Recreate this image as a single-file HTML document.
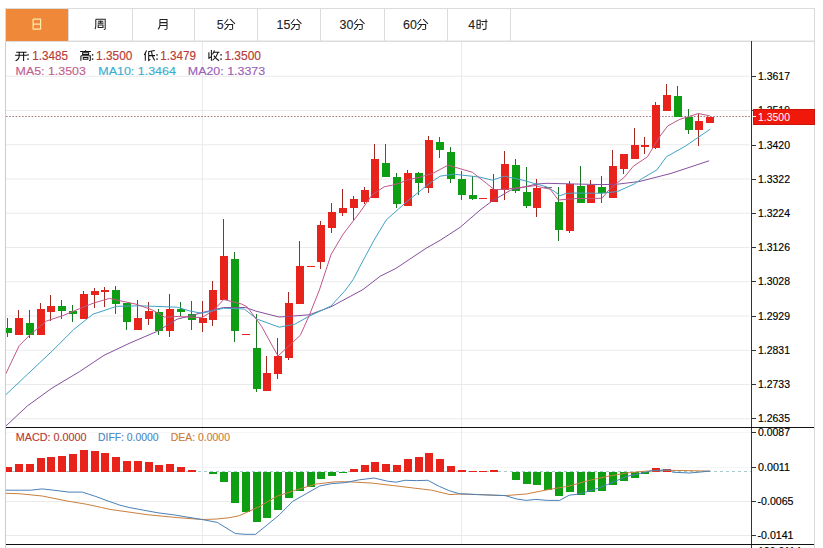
<!DOCTYPE html>
<html><head><meta charset="utf-8"><style>
html,body{margin:0;padding:0;background:#fff;width:823px;height:548px;overflow:hidden}
svg{display:block;font-family:'Liberation Sans',sans-serif}
</style></head><body>
<svg width="823" height="548" viewBox="0 0 823 548">
<defs><clipPath id="clipmain"><rect x="6" y="42" width="745" height="385"/></clipPath><clipPath id="clipmacd"><rect x="6" y="428" width="745" height="116"/></clipPath></defs>
<rect width="823" height="548" fill="#fff"/>
<g><line x1="6" y1="76.25" x2="750" y2="76.25" stroke="#eaeaea"/><line x1="6" y1="110.5" x2="750" y2="110.5" stroke="#eaeaea"/><line x1="6" y1="144.75" x2="750" y2="144.75" stroke="#eaeaea"/><line x1="6" y1="179.0" x2="750" y2="179.0" stroke="#eaeaea"/><line x1="6" y1="213.25" x2="750" y2="213.25" stroke="#eaeaea"/><line x1="6" y1="247.5" x2="750" y2="247.5" stroke="#eaeaea"/><line x1="6" y1="281.75" x2="750" y2="281.75" stroke="#eaeaea"/><line x1="6" y1="316.0" x2="750" y2="316.0" stroke="#eaeaea"/><line x1="6" y1="350.25" x2="750" y2="350.25" stroke="#eaeaea"/><line x1="6" y1="384.5" x2="750" y2="384.5" stroke="#eaeaea"/><line x1="6" y1="418.75" x2="750" y2="418.75" stroke="#eaeaea"/></g>
<g shape-rendering="crispEdges"><line x1="6" y1="432.5" x2="751" y2="432.5" stroke="#f6f6f6"/><line x1="6" y1="467.5" x2="751" y2="467.5" stroke="#f6f6f6"/><line x1="6" y1="501.5" x2="751" y2="501.5" stroke="#eaeaea"/><line x1="6" y1="535.5" x2="751" y2="535.5" stroke="#eaeaea"/><line x1="202.5" y1="41" x2="202.5" y2="544" stroke="#eaeaea"/><line x1="461.5" y1="41" x2="461.5" y2="544" stroke="#eaeaea"/></g>
<rect x="5.5" y="8.5" width="809" height="32.5" fill="#fff" stroke="#dcdcdc"/>
<rect x="6" y="9" width="62.5" height="32" fill="#f0883a"/>
<g shape-rendering="crispEdges"><line x1="68.5" y1="9" x2="68.5" y2="41" stroke="#dcdcdc"/><line x1="132.5" y1="9" x2="132.5" y2="41" stroke="#dcdcdc"/><line x1="194.5" y1="9" x2="194.5" y2="41" stroke="#dcdcdc"/><line x1="257.5" y1="9" x2="257.5" y2="41" stroke="#dcdcdc"/><line x1="320.5" y1="9" x2="320.5" y2="41" stroke="#dcdcdc"/><line x1="384.5" y1="9" x2="384.5" y2="41" stroke="#dcdcdc"/><line x1="447.5" y1="9" x2="447.5" y2="41" stroke="#dcdcdc"/><line x1="510.5" y1="9" x2="510.5" y2="41" stroke="#dcdcdc"/></g>
<g shape-rendering="crispEdges">
<line x1="5.5" y1="41" x2="5.5" y2="548" stroke="#cdcdcd"/>
<line x1="814.5" y1="8" x2="814.5" y2="548" stroke="#d8d8d8"/>
<line x1="5" y1="41.5" x2="815" y2="41.5" stroke="#dcdcdc"/>
<line x1="751.5" y1="41" x2="751.5" y2="548" stroke="#333"/>
<line x1="6" y1="427.5" x2="814" y2="427.5" stroke="#111"/>
<line x1="6" y1="544.5" x2="814" y2="544.5" stroke="#111"/>
</g>
<line x1="6" y1="471.5" x2="751" y2="471.5" stroke="#a8cccc" stroke-dasharray="3,3" shape-rendering="crispEdges"/>
<line x1="6" y1="116.5" x2="751" y2="116.5" stroke="#a87878" stroke-dasharray="1.6,1.6"/>
<g shape-rendering="crispEdges" clip-path="url(#clipmain)"><line x1="7.5" y1="318" x2="7.5" y2="337" stroke="#1c7424"/><rect x="4" y="328" width="8" height="5" fill="#0e9e14"/><line x1="18.5" y1="310" x2="18.5" y2="335" stroke="#a02a22"/><rect x="15" y="318" width="8" height="17" fill="#e8231b"/><line x1="29.5" y1="310" x2="29.5" y2="338" stroke="#1c7424"/><rect x="26" y="323" width="8" height="12" fill="#0e9e14"/><line x1="40.5" y1="303" x2="40.5" y2="335" stroke="#a02a22"/><rect x="37" y="309" width="8" height="26" fill="#e8231b"/><line x1="50.5" y1="295" x2="50.5" y2="321" stroke="#a02a22"/><rect x="47" y="306" width="8" height="6" fill="#e8231b"/><line x1="61.5" y1="300" x2="61.5" y2="319" stroke="#1c7424"/><rect x="58" y="306" width="8" height="5" fill="#0e9e14"/><line x1="72.5" y1="305" x2="72.5" y2="322" stroke="#1c7424"/><rect x="69" y="311" width="8" height="3" fill="#0e9e14"/><line x1="83.5" y1="291" x2="83.5" y2="319" stroke="#a02a22"/><rect x="80" y="294" width="8" height="25" fill="#e8231b"/><line x1="94.5" y1="288" x2="94.5" y2="308" stroke="#a02a22"/><rect x="91" y="291" width="8" height="4" fill="#e8231b"/><line x1="104.5" y1="287" x2="104.5" y2="307" stroke="#a02a22"/><rect x="101" y="290" width="8" height="2" fill="#e8231b"/><line x1="115.5" y1="286" x2="115.5" y2="314" stroke="#1c7424"/><rect x="112" y="290" width="8" height="14" fill="#0e9e14"/><line x1="126.5" y1="303" x2="126.5" y2="330" stroke="#1c7424"/><rect x="123" y="303" width="8" height="19" fill="#0e9e14"/><line x1="137.5" y1="300" x2="137.5" y2="330" stroke="#a02a22"/><rect x="134" y="318" width="8" height="12" fill="#e8231b"/><line x1="148.5" y1="302" x2="148.5" y2="325" stroke="#a02a22"/><rect x="145" y="311" width="8" height="8" fill="#e8231b"/><line x1="158.5" y1="309" x2="158.5" y2="335" stroke="#1c7424"/><rect x="155" y="312" width="8" height="19" fill="#0e9e14"/><line x1="169.5" y1="294" x2="169.5" y2="337" stroke="#a02a22"/><rect x="166" y="309" width="8" height="22" fill="#e8231b"/><line x1="180.5" y1="302" x2="180.5" y2="316" stroke="#1c7424"/><rect x="177" y="309" width="8" height="3" fill="#0e9e14"/><line x1="191.5" y1="301" x2="191.5" y2="330" stroke="#1c7424"/><rect x="188" y="314" width="8" height="6" fill="#0e9e14"/><line x1="202.5" y1="301" x2="202.5" y2="332" stroke="#a02a22"/><rect x="199" y="318" width="8" height="5" fill="#e8231b"/><line x1="212.5" y1="281" x2="212.5" y2="326" stroke="#a02a22"/><rect x="209" y="290" width="8" height="30" fill="#e8231b"/><line x1="223.5" y1="219" x2="223.5" y2="300" stroke="#a02a22"/><rect x="220" y="256" width="8" height="44" fill="#e8231b"/><line x1="234.5" y1="252" x2="234.5" y2="342" stroke="#1c7424"/><rect x="231" y="259" width="8" height="72" fill="#0e9e14"/><rect x="242" y="334" width="8" height="1" fill="#e8231b"/><line x1="256.5" y1="314" x2="256.5" y2="392" stroke="#1c7424"/><rect x="253" y="348" width="8" height="41" fill="#0e9e14"/><line x1="266.5" y1="356" x2="266.5" y2="391" stroke="#a02a22"/><rect x="263" y="373" width="8" height="18" fill="#e8231b"/><line x1="277.5" y1="338" x2="277.5" y2="379" stroke="#a02a22"/><rect x="274" y="356" width="8" height="18" fill="#e8231b"/><line x1="288.5" y1="292" x2="288.5" y2="360" stroke="#a02a22"/><rect x="285" y="303" width="8" height="55" fill="#e8231b"/><line x1="299.5" y1="241" x2="299.5" y2="304" stroke="#a02a22"/><rect x="296" y="266" width="8" height="38" fill="#e8231b"/><rect x="307" y="266" width="8" height="1" fill="#e8231b"/><line x1="320.5" y1="221" x2="320.5" y2="269" stroke="#a02a22"/><rect x="317" y="225" width="8" height="37" fill="#e8231b"/><line x1="331.5" y1="203" x2="331.5" y2="233" stroke="#a02a22"/><rect x="328" y="212" width="8" height="16" fill="#e8231b"/><line x1="342.5" y1="189" x2="342.5" y2="216" stroke="#a02a22"/><rect x="339" y="208" width="8" height="5" fill="#e8231b"/><line x1="353.5" y1="196" x2="353.5" y2="220" stroke="#a02a22"/><rect x="350" y="199" width="8" height="9" fill="#e8231b"/><line x1="364.5" y1="187" x2="364.5" y2="204" stroke="#a02a22"/><rect x="361" y="190" width="8" height="12" fill="#e8231b"/><line x1="374.5" y1="144" x2="374.5" y2="198" stroke="#a02a22"/><rect x="371" y="159" width="8" height="39" fill="#e8231b"/><line x1="385.5" y1="144" x2="385.5" y2="177" stroke="#1c7424"/><rect x="382" y="163" width="8" height="14" fill="#0e9e14"/><line x1="396.5" y1="173" x2="396.5" y2="208" stroke="#1c7424"/><rect x="393" y="177" width="8" height="27" fill="#0e9e14"/><line x1="407.5" y1="170" x2="407.5" y2="206" stroke="#a02a22"/><rect x="404" y="173" width="8" height="33" fill="#e8231b"/><line x1="418.5" y1="172" x2="418.5" y2="195" stroke="#1c7424"/><rect x="415" y="173" width="8" height="10" fill="#0e9e14"/><line x1="428.5" y1="136" x2="428.5" y2="193" stroke="#a02a22"/><rect x="425" y="140" width="8" height="48" fill="#e8231b"/><line x1="439.5" y1="137" x2="439.5" y2="158" stroke="#1c7424"/><rect x="436" y="142" width="8" height="8" fill="#0e9e14"/><line x1="450.5" y1="147" x2="450.5" y2="183" stroke="#1c7424"/><rect x="447" y="152" width="8" height="27" fill="#0e9e14"/><line x1="461.5" y1="171" x2="461.5" y2="200" stroke="#1c7424"/><rect x="458" y="179" width="8" height="16" fill="#0e9e14"/><line x1="472.5" y1="176" x2="472.5" y2="200" stroke="#1c7424"/><rect x="469" y="195" width="8" height="4" fill="#0e9e14"/><rect x="479" y="198" width="8" height="1" fill="#e8231b"/><line x1="493.5" y1="174" x2="493.5" y2="202" stroke="#a02a22"/><rect x="490" y="189" width="8" height="13" fill="#e8231b"/><line x1="504.5" y1="151" x2="504.5" y2="200" stroke="#a02a22"/><rect x="501" y="164" width="8" height="26" fill="#e8231b"/><line x1="515.5" y1="159" x2="515.5" y2="193" stroke="#1c7424"/><rect x="512" y="165" width="8" height="26" fill="#0e9e14"/><line x1="526.5" y1="167" x2="526.5" y2="208" stroke="#1c7424"/><rect x="523" y="192" width="8" height="14" fill="#0e9e14"/><line x1="536.5" y1="179" x2="536.5" y2="217" stroke="#a02a22"/><rect x="533" y="188" width="8" height="20" fill="#e8231b"/><rect x="544" y="187" width="8" height="1" fill="#707070"/><line x1="558.5" y1="187" x2="558.5" y2="241" stroke="#1c7424"/><rect x="555" y="202" width="8" height="28" fill="#0e9e14"/><line x1="569.5" y1="181" x2="569.5" y2="233" stroke="#a02a22"/><rect x="566" y="184" width="8" height="47" fill="#e8231b"/><line x1="580.5" y1="166" x2="580.5" y2="203" stroke="#1c7424"/><rect x="577" y="186" width="8" height="17" fill="#0e9e14"/><line x1="590.5" y1="180" x2="590.5" y2="203" stroke="#a02a22"/><rect x="587" y="185" width="8" height="18" fill="#e8231b"/><line x1="601.5" y1="176" x2="601.5" y2="203" stroke="#1c7424"/><rect x="598" y="187" width="8" height="6" fill="#0e9e14"/><line x1="612.5" y1="150" x2="612.5" y2="198" stroke="#a02a22"/><rect x="609" y="166" width="8" height="32" fill="#e8231b"/><line x1="623.5" y1="154" x2="623.5" y2="174" stroke="#a02a22"/><rect x="620" y="154" width="8" height="15" fill="#e8231b"/><line x1="634.5" y1="128" x2="634.5" y2="158" stroke="#a02a22"/><rect x="631" y="145" width="8" height="14" fill="#e8231b"/><line x1="644.5" y1="137" x2="644.5" y2="154" stroke="#a02a22"/><rect x="641" y="145" width="8" height="2" fill="#e8231b"/><line x1="655.5" y1="102" x2="655.5" y2="149" stroke="#a02a22"/><rect x="652" y="105" width="8" height="43" fill="#e8231b"/><line x1="666.5" y1="84" x2="666.5" y2="111" stroke="#a02a22"/><rect x="663" y="95" width="8" height="16" fill="#e8231b"/><line x1="677.5" y1="86" x2="677.5" y2="116" stroke="#1c7424"/><rect x="674" y="96" width="8" height="21" fill="#0e9e14"/><line x1="688.5" y1="109" x2="688.5" y2="134" stroke="#1c7424"/><rect x="685" y="117" width="8" height="13" fill="#0e9e14"/><line x1="698.5" y1="114" x2="698.5" y2="146" stroke="#a02a22"/><rect x="695" y="121" width="8" height="9" fill="#e8231b"/><line x1="709.5" y1="117" x2="709.5" y2="123" stroke="#a02a22"/><rect x="706" y="117" width="8" height="6" fill="#e8231b"/></g>
<g clip-path="url(#clipmain)">
<polyline points="5.5,426.4 27.4,405.9 52.0,388.1 79.4,371.7 104.0,355.3 130.0,343.0 156.6,331.6 177.1,319.2 190.8,315.8 201.9,312.6 223.7,307.5 245.6,307.5 255.8,311.1 279.2,317.0 300.0,315.5 309.2,314.8 331.0,306.8 363.0,289.5 380.1,276.3 396.1,268.3 426.2,248.2 440.3,240.2 460.3,227.2 480.0,210.1 492.3,200.9 510.4,190.3 523.0,187.2 536.7,184.0 546.9,183.3 575.0,184.0 602.0,184.6 617.4,184.2 640.0,181.4 671.1,173.4 709.1,160.8" fill="none" stroke="#86509c" stroke-width="1" stroke-linejoin="round"/>
<polyline points="5.5,395.0 27.4,374.4 52.0,351.2 73.9,329.3 93.0,314.2 109.5,308.7 116.9,306.3 140.1,305.8 177.1,307.2 190.0,311.0 201.9,313.3 223.7,308.2 244.2,309.0 257.3,319.2 279.2,327.2 294.6,324.3 309.2,316.2 331.0,306.0 345.6,290.0 353.3,279.3 360.0,266.3 374.0,240.2 386.1,220.1 406.2,202.1 426.2,186.0 434.3,180.0 440.1,176.2 454.1,174.2 480.2,177.2 492.3,180.2 504.3,176.2 523.0,180.2 533.8,183.3 546.9,186.9 554.2,191.3 560.1,195.7 566.0,193.5 575.0,193.0 602.0,193.3 617.4,191.5 633.9,184.2 642.7,178.2 656.9,169.9 666.4,156.8 685.4,146.1 710.3,129.1" fill="none" stroke="#40a2c4" stroke-width="1" stroke-linejoin="round"/>
<polyline points="5.5,374.4 19.2,345.7 30.1,334.7 46.5,321.0 62.9,315.6 79.4,308.7 93.0,303.3 109.4,298.4 136.0,304.2 152.5,310.0 164.8,317.2 177.0,316.5 201.9,317.7 213.5,310.4 223.7,299.5 241.2,303.9 247.1,306.8 261.7,326.5 271.9,345.0 278.0,356.0 300.4,335.2 309.2,315.5 319.4,290.0 331.2,254.2 343.2,234.1 360.0,212.1 372.0,195.0 384.2,186.8 392.2,185.2 400.1,183.0 406.3,180.2 420.0,177.2 433.0,173.2 448.1,165.2 472.2,172.2 486.3,183.2 494.3,189.7 504.3,189.3 523.0,187.2 536.1,185.5 539.6,186.9 550.2,189.2 558.4,200.0 575.0,198.6 602.0,198.3 609.2,189.6 617.4,182.8 624.7,176.9 633.2,166.3 647.4,156.8 660.0,136.2 667.7,126.0 679.2,119.6 689.4,116.4 698.3,113.5 709.8,115.8" fill="none" stroke="#c0568a" stroke-width="1" stroke-linejoin="round"/>
</g>
<g shape-rendering="crispEdges" clip-path="url(#clipmacd)"><rect x="4" y="467" width="8" height="5" fill="#e8231b"/><rect x="15" y="464" width="8" height="8" fill="#e8231b"/><rect x="26" y="464" width="8" height="8" fill="#e8231b"/><rect x="37" y="458" width="8" height="14" fill="#e8231b"/><rect x="47" y="457" width="8" height="15" fill="#e8231b"/><rect x="58" y="456" width="8" height="16" fill="#e8231b"/><rect x="69" y="454" width="8" height="18" fill="#e8231b"/><rect x="80" y="450" width="8" height="22" fill="#e8231b"/><rect x="91" y="451" width="8" height="21" fill="#e8231b"/><rect x="101" y="453" width="8" height="19" fill="#e8231b"/><rect x="112" y="457" width="8" height="15" fill="#e8231b"/><rect x="123" y="461" width="8" height="11" fill="#e8231b"/><rect x="134" y="461" width="8" height="11" fill="#e8231b"/><rect x="145" y="462" width="8" height="10" fill="#e8231b"/><rect x="155" y="465" width="8" height="7" fill="#e8231b"/><rect x="166" y="464" width="8" height="8" fill="#e8231b"/><rect x="177" y="467" width="8" height="5" fill="#e8231b"/><rect x="188" y="470" width="8" height="2" fill="#e8231b"/><rect x="209" y="472" width="8" height="2" fill="#0e9e14"/><rect x="220" y="472" width="8" height="10" fill="#0e9e14"/><rect x="231" y="472" width="8" height="31" fill="#0e9e14"/><rect x="242" y="472" width="8" height="40" fill="#0e9e14"/><rect x="253" y="472" width="8" height="50" fill="#0e9e14"/><rect x="263" y="472" width="8" height="46" fill="#0e9e14"/><rect x="274" y="472" width="8" height="38" fill="#0e9e14"/><rect x="285" y="472" width="8" height="26" fill="#0e9e14"/><rect x="296" y="472" width="8" height="19" fill="#0e9e14"/><rect x="307" y="472" width="8" height="15" fill="#0e9e14"/><rect x="317" y="472" width="8" height="7" fill="#0e9e14"/><rect x="328" y="472" width="8" height="4" fill="#0e9e14"/><rect x="339" y="472" width="8" height="1" fill="#0e9e14"/><rect x="350" y="469" width="8" height="3" fill="#e8231b"/><rect x="361" y="465" width="8" height="7" fill="#e8231b"/><rect x="371" y="462" width="8" height="10" fill="#e8231b"/><rect x="382" y="464" width="8" height="8" fill="#e8231b"/><rect x="393" y="465" width="8" height="7" fill="#e8231b"/><rect x="404" y="459" width="8" height="13" fill="#e8231b"/><rect x="415" y="457" width="8" height="15" fill="#e8231b"/><rect x="425" y="453" width="8" height="19" fill="#e8231b"/><rect x="436" y="459" width="8" height="13" fill="#e8231b"/><rect x="447" y="466" width="8" height="6" fill="#e8231b"/><rect x="458" y="470" width="8" height="2" fill="#e8231b"/><rect x="469" y="471" width="8" height="1" fill="#e8231b"/><rect x="479" y="471" width="8" height="1" fill="#e8231b"/><rect x="490" y="470" width="8" height="2" fill="#e8231b"/><rect x="512" y="472" width="8" height="8" fill="#0e9e14"/><rect x="523" y="472" width="8" height="12" fill="#0e9e14"/><rect x="533" y="472" width="8" height="13" fill="#0e9e14"/><rect x="544" y="472" width="8" height="18" fill="#0e9e14"/><rect x="555" y="472" width="8" height="24" fill="#0e9e14"/><rect x="566" y="472" width="8" height="20" fill="#0e9e14"/><rect x="577" y="472" width="8" height="23" fill="#0e9e14"/><rect x="587" y="472" width="8" height="20" fill="#0e9e14"/><rect x="598" y="472" width="8" height="19" fill="#0e9e14"/><rect x="609" y="472" width="8" height="13" fill="#0e9e14"/><rect x="620" y="472" width="8" height="9" fill="#0e9e14"/><rect x="631" y="472" width="8" height="6" fill="#0e9e14"/><rect x="641" y="472" width="8" height="2" fill="#0e9e14"/><rect x="652" y="468" width="8" height="4" fill="#e8231b"/><rect x="663" y="469" width="8" height="3" fill="#e8231b"/></g>
<polyline points="5.8,493.3 19.2,493.7 42.2,496.0 67.1,501.0 86.3,504.2 101.6,507.5 110.0,509.4 148.3,514.8 177.1,517.6 202.0,519.5 217.3,519.0 230.0,517.6 239.2,515.7 258.3,507.1 277.5,496.0 296.7,489.8 315.8,484.1 335.0,481.8 349.2,481.8 372.2,483.1 393.3,485.6 412.4,487.9 431.6,490.2 450.0,494.6 459.2,494.0 478.3,494.6 505.2,495.6 526.3,494.0 545.4,490.2 569.2,486.0 588.3,480.6 607.5,476.4 626.7,473.0 645.8,471.1 670.0,470.3 710.0,471.1" fill="none" stroke="#c97f3c" stroke-width="1" stroke-linejoin="round"/>
<polyline points="5.8,490.2 19.2,490.2 30.7,490.2 42.2,488.9 53.7,490.2 69.0,492.1 82.4,492.1 95.8,496.5 108.0,501.0 120.0,505.2 129.2,507.5 157.9,512.8 173.3,514.8 202.0,519.5 217.3,522.4 225.0,527.2 235.3,533.5 244.9,534.3 255.5,534.3 267.9,524.3 279.4,514.8 292.8,501.3 306.3,493.7 319.7,486.0 331.2,483.7 345.3,482.6 358.8,479.9 374.1,478.0 387.5,481.2 396.1,482.2 404.8,480.3 416.3,480.6 427.8,480.3 439.3,486.4 449.6,490.8 459.2,493.7 478.3,494.6 505.2,495.6 516.7,499.0 526.3,500.4 535.8,499.4 547.3,500.4 559.6,500.4 569.2,495.2 578.8,494.1 597.9,488.3 607.5,484.5 626.7,476.4 640.1,473.5 651.6,470.7 670.0,469.7 672.6,472.2 689.8,473.0 710.0,471.1" fill="none" stroke="#4a80b8" stroke-width="1" stroke-linejoin="round"/>
<g style="font-family:'Liberation Sans',sans-serif"><line x1="752" y1="76.5" x2="756" y2="76.5" stroke="#333" shape-rendering="crispEdges"/><text x="758" y="80.1" fill="#000" stroke="#000" stroke-width="0.15" font-size="10.6" text-anchor="start" textLength="32" lengthAdjust="spacingAndGlyphs">1.3617</text><line x1="752" y1="110.5" x2="756" y2="110.5" stroke="#333" shape-rendering="crispEdges"/><text x="758" y="114.1" fill="#000" stroke="#000" stroke-width="0.15" font-size="10.6" text-anchor="start" textLength="32" lengthAdjust="spacingAndGlyphs">1.3519</text><line x1="752" y1="145.5" x2="756" y2="145.5" stroke="#333" shape-rendering="crispEdges"/><text x="758" y="149.1" fill="#000" stroke="#000" stroke-width="0.15" font-size="10.6" text-anchor="start" textLength="32" lengthAdjust="spacingAndGlyphs">1.3420</text><line x1="752" y1="179.5" x2="756" y2="179.5" stroke="#333" shape-rendering="crispEdges"/><text x="758" y="183.1" fill="#000" stroke="#000" stroke-width="0.15" font-size="10.6" text-anchor="start" textLength="32" lengthAdjust="spacingAndGlyphs">1.3322</text><line x1="752" y1="213.5" x2="756" y2="213.5" stroke="#333" shape-rendering="crispEdges"/><text x="758" y="217.1" fill="#000" stroke="#000" stroke-width="0.15" font-size="10.6" text-anchor="start" textLength="32" lengthAdjust="spacingAndGlyphs">1.3224</text><line x1="752" y1="247.5" x2="756" y2="247.5" stroke="#333" shape-rendering="crispEdges"/><text x="758" y="251.1" fill="#000" stroke="#000" stroke-width="0.15" font-size="10.6" text-anchor="start" textLength="32" lengthAdjust="spacingAndGlyphs">1.3126</text><line x1="752" y1="281.5" x2="756" y2="281.5" stroke="#333" shape-rendering="crispEdges"/><text x="758" y="285.1" fill="#000" stroke="#000" stroke-width="0.15" font-size="10.6" text-anchor="start" textLength="32" lengthAdjust="spacingAndGlyphs">1.3028</text><line x1="752" y1="316.5" x2="756" y2="316.5" stroke="#333" shape-rendering="crispEdges"/><text x="758" y="320.1" fill="#000" stroke="#000" stroke-width="0.15" font-size="10.6" text-anchor="start" textLength="32" lengthAdjust="spacingAndGlyphs">1.2929</text><line x1="752" y1="350.5" x2="756" y2="350.5" stroke="#333" shape-rendering="crispEdges"/><text x="758" y="354.1" fill="#000" stroke="#000" stroke-width="0.15" font-size="10.6" text-anchor="start" textLength="32" lengthAdjust="spacingAndGlyphs">1.2831</text><line x1="752" y1="384.5" x2="756" y2="384.5" stroke="#333" shape-rendering="crispEdges"/><text x="758" y="388.1" fill="#000" stroke="#000" stroke-width="0.15" font-size="10.6" text-anchor="start" textLength="32" lengthAdjust="spacingAndGlyphs">1.2733</text><line x1="752" y1="418.5" x2="756" y2="418.5" stroke="#333" shape-rendering="crispEdges"/><text x="758" y="422.1" fill="#000" stroke="#000" stroke-width="0.15" font-size="10.6" text-anchor="start" textLength="32" lengthAdjust="spacingAndGlyphs">1.2635</text><line x1="752" y1="432.5" x2="756" y2="432.5" stroke="#333" shape-rendering="crispEdges"/><text x="758" y="436.1" fill="#000" stroke="#000" stroke-width="0.15" font-size="10.6" text-anchor="start" textLength="32" lengthAdjust="spacingAndGlyphs">0.0087</text><line x1="752" y1="467.5" x2="756" y2="467.5" stroke="#333" shape-rendering="crispEdges"/><text x="758" y="471.1" fill="#000" stroke="#000" stroke-width="0.15" font-size="10.6" text-anchor="start" textLength="32" lengthAdjust="spacingAndGlyphs">0.0011</text><line x1="752" y1="501.5" x2="756" y2="501.5" stroke="#333" shape-rendering="crispEdges"/><text x="757.5" y="505.1" fill="#000" stroke="#000" stroke-width="0.15" font-size="10.6" text-anchor="start" textLength="36" lengthAdjust="spacingAndGlyphs">-0.0065</text><line x1="752" y1="535.5" x2="756" y2="535.5" stroke="#333" shape-rendering="crispEdges"/><text x="757.5" y="539.1" fill="#000" stroke="#000" stroke-width="0.15" font-size="10.6" text-anchor="start" textLength="36" lengthAdjust="spacingAndGlyphs">-0.0141</text><text x="758" y="554.6" fill="#000" stroke="#000" stroke-width="0.15" font-size="10.6" text-anchor="start" textLength="43" lengthAdjust="spacingAndGlyphs">120.0114</text></g>
<rect x="753.5" y="109.5" width="61" height="15" fill="#f0180a" stroke="#c8160c" shape-rendering="crispEdges"/>
<line x1="753" y1="116.5" x2="756" y2="116.5" stroke="#fff" shape-rendering="crispEdges"/>
<text x="758" y="121.3" fill="#fff" font-size="11.5" textLength="32" lengthAdjust="spacingAndGlyphs" style="font-family:'Liberation Sans',sans-serif">1.3500</text>
<g style="font-family:'Liberation Sans',sans-serif"><text x="32.3" y="59.8" fill="#b83a33" stroke="#b83a33" stroke-width="0.15" font-size="12" text-anchor="start" textLength="35.7" lengthAdjust="spacingAndGlyphs">1.3485</text><text x="96.1" y="59.8" fill="#b83a33" stroke="#b83a33" stroke-width="0.15" font-size="12" text-anchor="start" textLength="36.2" lengthAdjust="spacingAndGlyphs">1.3500</text><text x="160.3" y="59.8" fill="#b83a33" stroke="#b83a33" stroke-width="0.15" font-size="12" text-anchor="start" textLength="35.7" lengthAdjust="spacingAndGlyphs">1.3479</text><text x="224.4" y="59.8" fill="#b83a33" stroke="#b83a33" stroke-width="0.15" font-size="12" text-anchor="start" textLength="36.6" lengthAdjust="spacingAndGlyphs">1.3500</text><text x="15.6" y="74.9" fill="#c2608e" stroke="#c2608e" stroke-width="0.15" font-size="11.5" text-anchor="start" textLength="70.3" lengthAdjust="spacingAndGlyphs">MA5: 1.3503</text><text x="98.3" y="74.9" fill="#3aaed0" stroke="#3aaed0" stroke-width="0.15" font-size="11.5" text-anchor="start" textLength="77.6" lengthAdjust="spacingAndGlyphs">MA10: 1.3464</text><text x="187.8" y="74.9" fill="#9a62b8" stroke="#9a62b8" stroke-width="0.15" font-size="11.5" text-anchor="start" textLength="77.4" lengthAdjust="spacingAndGlyphs">MA20: 1.3373</text><text x="15.8" y="441" fill="#b83a33" stroke="#b83a33" stroke-width="0.15" font-size="11.5" text-anchor="start" textLength="70.7" lengthAdjust="spacingAndGlyphs">MACD: 0.0000</text><text x="98" y="441" fill="#4a88c4" stroke="#4a88c4" stroke-width="0.15" font-size="11.5" text-anchor="start" textLength="60.6" lengthAdjust="spacingAndGlyphs">DIFF: 0.0000</text><text x="170.7" y="441" fill="#cc7d3a" stroke="#cc7d3a" stroke-width="0.15" font-size="11.5" text-anchor="start" textLength="59.3" lengthAdjust="spacingAndGlyphs">DEA: 0.0000</text></g>
<path d="M0.5,0.5 V11 M0.5,0.5 H8 V11 M0.5,5.6 H8 M0.5,10.6 H8" transform="translate(32.6,18.6)" fill="none" stroke="#ffeaa8" stroke-width="1.20"/><path d="M1,0.8 V7 Q1,9.5 0.1,10.6 M1,0.8 H10.4 V10.3 Q10.4,11 9,11 M3.1,2.8 H8.5 M5.8,1.9 V4.6 M2.9,4.6 H8.7 M3.4,6.4 H8.2 V8.9 H3.4 Z" transform="translate(94.8,18.5)" fill="none" stroke="#222" stroke-width="1.05"/><path d="M2.4,0.8 V6.5 Q2.4,9.5 0.5,10.8 M2.4,1 H9.5 V10.2 Q9.5,11 7,11 M2.6,4.1 H9.5 M2.6,7 H9.5" transform="translate(157.5,18.5)" fill="none" stroke="#222" stroke-width="1.05"/><text x="216.8" y="28.8" fill="#222" stroke="#222" stroke-width="0.1" font-size="12.4" style="font-family:'Liberation Sans',sans-serif">5</text><path d="M4,0.6 L0.4,5.2 M6.2,0.6 L11,5.2 M1.7,5.9 H8.6 V10.3 Q8.5,10.9 5.3,10.8 M4.5,5.9 Q4,9 0.4,11.2" transform="translate(224.0,18.6)" fill="none" stroke="#222" stroke-width="1.05"/><text x="276.5" y="28.8" fill="#222" stroke="#222" stroke-width="0.1" font-size="12.4" style="font-family:'Liberation Sans',sans-serif">15</text><path d="M4,0.6 L0.4,5.2 M6.2,0.6 L11,5.2 M1.7,5.9 H8.6 V10.3 Q8.5,10.9 5.3,10.8 M4.5,5.9 Q4,9 0.4,11.2" transform="translate(290.5,18.6)" fill="none" stroke="#222" stroke-width="1.05"/><text x="339.6" y="28.8" fill="#222" stroke="#222" stroke-width="0.1" font-size="12.4" style="font-family:'Liberation Sans',sans-serif">30</text><path d="M4,0.6 L0.4,5.2 M6.2,0.6 L11,5.2 M1.7,5.9 H8.6 V10.3 Q8.5,10.9 5.3,10.8 M4.5,5.9 Q4,9 0.4,11.2" transform="translate(353.59999999999997,18.6)" fill="none" stroke="#222" stroke-width="1.05"/><text x="403.0" y="28.8" fill="#222" stroke="#222" stroke-width="0.1" font-size="12.4" style="font-family:'Liberation Sans',sans-serif">60</text><path d="M4,0.6 L0.4,5.2 M6.2,0.6 L11,5.2 M1.7,5.9 H8.6 V10.3 Q8.5,10.9 5.3,10.8 M4.5,5.9 Q4,9 0.4,11.2" transform="translate(417.0,18.6)" fill="none" stroke="#222" stroke-width="1.05"/><text x="468.3" y="28.8" fill="#222" stroke="#222" stroke-width="0.1" font-size="12.4" style="font-family:'Liberation Sans',sans-serif">4</text><path d="M0.5,1.7 V10 M0.5,1.7 H3.7 V10 M0.5,5.8 H3.7 M0.5,9.6 H3.7 M4.8,2.8 H11 M9.5,0.6 V10 Q9.5,11 6.2,11 M5.5,5 L6.6,6.5" transform="translate(476.5,18.6)" fill="none" stroke="#222" stroke-width="1.05"/><path d="M1.2,2.3 H11.6 M0.1,5.3 H12.1 M4.2,2.3 V6 Q4,9.5 0.6,10.8 M8.6,2.3 V11" transform="translate(15,49.9)" fill="none" stroke="#111" stroke-width="1.05"/><rect x="27.3" y="54.2" width="1.4" height="1.4" fill="#111"/><rect x="27.3" y="58.4" width="1.4" height="1.4" fill="#111"/><path d="M6,0.4 V1.3 M0.5,1.6 H11.4 M3,2.9 H9 V4.6 H3 Z M1.3,5.9 V10.8 M1.3,5.9 H10.7 V10.2 L9.6,10.8 M3.7,7.5 H8.3 V9.3 H3.7 Z" transform="translate(79.6,49.9)" fill="none" stroke="#111" stroke-width="1.05"/><rect x="91.9" y="54.2" width="1.4" height="1.4" fill="#111"/><rect x="91.9" y="58.4" width="1.4" height="1.4" fill="#111"/><path d="M2.6,0.5 L0.3,5.1 M1.3,3.7 V10.8 M4.2,1.8 L10.8,0.5 M4.7,1.8 V10.6 L6.3,9.5 M4.7,5.7 H11 M7.5,1.8 Q8.5,8 10.8,10.6" transform="translate(144,49.9)" fill="none" stroke="#111" stroke-width="1.05"/><rect x="156.3" y="54.2" width="1.4" height="1.4" fill="#111"/><rect x="156.3" y="58.4" width="1.4" height="1.4" fill="#111"/><path d="M0.9,2.4 V8.3 L3,7 M3.4,0.1 V10.8 M6.5,0.5 L4.5,4.7 M5.5,2.4 H11.4 M10.1,2.4 Q8.5,7.5 4.5,10.5 M5.8,5.7 Q8,9 11.1,10.8" transform="translate(208,49.9)" fill="none" stroke="#111" stroke-width="1.05"/><rect x="220.3" y="54.2" width="1.4" height="1.4" fill="#111"/><rect x="220.3" y="58.4" width="1.4" height="1.4" fill="#111"/>
</svg>
</body></html>
